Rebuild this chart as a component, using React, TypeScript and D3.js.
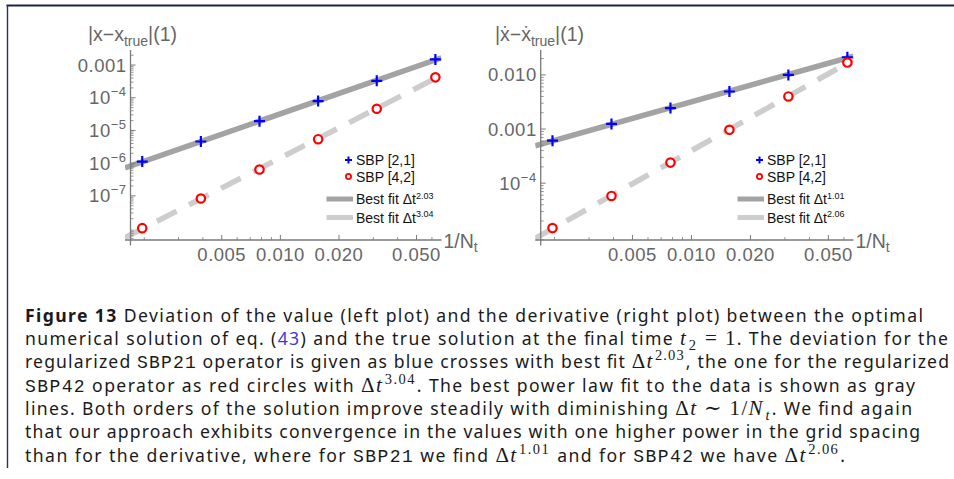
import React from 'react';
import * as d3 from 'd3';

// ---------- data ----------
const stepSizes = [1 / 512, 1 / 256, 1 / 128, 1 / 64, 1 / 32, 1 / 16];
const valueSBP21 = [1.12e-6, 4.6e-6, 1.92e-5, 7.9e-5, 3.3e-4, 1.49e-3];
const valueSBP42 = [1.03e-8, 8.3e-8, 6.4e-7, 5.4e-6, 4.6e-5, 4.2e-4];
const derivSBP21 = [6.1e-4, 1.24e-3, 2.44e-3, 4.94e-3, 1.0e-2, 2.12e-2];
const derivSBP42 = [1.48e-5, 5.8e-5, 2.4e-4, 9.7e-4, 4.0e-3, 1.69e-2];
const seriesNames = ['SBP [2,1]', 'SBP [4,2]'];
const valueFitExponents = ['2.03', '3.04'];
const derivFitExponents = ['1.01', '2.06'];
const xTickValues = [0.005, 0.01, 0.02, 0.05];
const xTickLabels = ['0.005', '0.010', '0.020', '0.050'];
const xMinorTickValues = [0.002, 0.003, 0.004, 0.006, 0.007, 0.008, 0.009, 0.03, 0.04, 0.06];
const valueYTicks = [1e-3, 1e-4, 1e-5, 1e-6, 1e-7];
const valueYTickLabels = [['0.001', ''], ['10', '−4'], ['10', '−5'], ['10', '−6'], ['10', '−7']];
const derivYTicks = [1e-2, 1e-3, 1e-4];
const derivYTickLabels = [['0.010', ''], ['0.001', ''], ['10', '−4']];
const xDomain = [0.0017, 0.066];
const valueYDomain = [Math.pow(10, -8.35), Math.pow(10, -2.54)];
const derivYDomain = [Math.pow(10, -5.05), Math.pow(10, -1.54)];

const BLUE = '#0000ff';
const RED = '#ff0000';
const FIT_DARK = '#a3a3a3';
const FIT_LIGHT = '#cdcdcd';
const AXIS = '#7a7a7a';
const LABEL = '#666666';
const PLOT_FONT = '"Liberation Sans", Arial, sans-serif';

function regress(xs: number[], ys: number[]) {
  const lx = xs.map(Math.log10);
  const ly = ys.map(Math.log10);
  const mx = d3.mean(lx) as number;
  const my = d3.mean(ly) as number;
  let num = 0, den = 0;
  lx.forEach((v, i) => { num += (v - mx) * (ly[i] - my); den += (v - mx) * (v - mx); });
  const b = num / den;
  const a = my - b * mx;
  return (xv: number) => Math.pow(10, a + b * Math.log10(xv));
}

type PanelProps = {
  id: string;
  xRange: [number, number];
  yDomain: number[];
  s21: number[];
  s42: number[];
  yTicks: number[];
  yTickLabels: string[][];
  exps: string[];
  dotted: boolean;
  ylabelX: number;
  legendX: number;
};

function Panel(p: PanelProps) {
  const x = d3.scaleLog().domain(xDomain).range(p.xRange);
  const y = d3.scaleLog().domain(p.yDomain).range([240, 50]);
  const left = p.xRange[0] - 5.5;
  const right = p.xRange[1] + 1.5;
  const top = 50;
  const bottom = 245.5;
  const axisY = y(p.yDomain[0]);
  const axisX = x(xDomain[0]);

  const f21 = regress(stepSizes, p.s21);
  const f42 = regress(stepSizes, p.s42);
  const xs = [x.invert(left), x.invert(right)];
  const fitPath = (f: (v: number) => number) =>
    d3.line<number>().x((d) => x(d)).y((d) => y(f(d)))(xs) as string;

  const minorY: number[] = [];
  const d0 = Math.floor(Math.log10(p.yDomain[0]));
  const d1 = Math.ceil(Math.log10(p.yDomain[1]));
  for (let d = d0; d <= d1; d++) {
    for (let m = 2; m <= 9; m++) {
      const v = m * Math.pow(10, d);
      if (v > p.yDomain[0] && v < p.yDomain[1]) minorY.push(v);
    }
  }

  const xVar = p.dotted ? 'ẋ' : 'x';
  const lx = p.legendX;

  return (
    <g>
      <defs>
        <clipPath id={p.id}>
          <rect x={left} y={top} width={right - left} height={bottom - top} />
        </clipPath>
      </defs>
      <g clipPath={`url(#${p.id})`}>
        <path d={fitPath(f21)} stroke={FIT_DARK} strokeWidth={5.5} fill="none" />
        <path d={fitPath(f42)} stroke={FIT_LIGHT} strokeWidth={5.5} fill="none" strokeDasharray="22,14" />
      </g>
      <line x1={left} x2={right} y1={axisY} y2={axisY} stroke={AXIS} strokeWidth={1.3} />
      <line x1={axisX} x2={axisX} y1={top} y2={bottom} stroke={AXIS} strokeWidth={1.3} />
      {xTickValues.map((v) => (
        <line key={'xt' + v} x1={x(v)} x2={x(v)} y1={axisY} y2={axisY - 5} stroke={AXIS} strokeWidth={1} />
      ))}
      {xMinorTickValues.map((v) => (
        <line key={'xm' + v} x1={x(v)} x2={x(v)} y1={axisY} y2={axisY - 3} stroke={AXIS} strokeWidth={0.8} />
      ))}
      {xTickValues.map((v, i) => (
        <text key={'xl' + v} x={x(v)} y={axisY + 21} textAnchor="middle" fontFamily={PLOT_FONT} fontSize={18.5}
          fill={LABEL} letterSpacing={0.5}>{xTickLabels[i]}</text>
      ))}
      {p.yTicks.map((v) => (
        <line key={'yt' + v} x1={axisX} x2={axisX + 5} y1={y(v)} y2={y(v)} stroke={AXIS} strokeWidth={1} />
      ))}
      {minorY.map((v) => (
        <line key={'ym' + v} x1={axisX} x2={axisX + 3} y1={y(v)} y2={y(v)} stroke={AXIS} strokeWidth={0.8} />
      ))}
      {p.yTicks.map((v, i) => (
        <text key={'yl' + v} x={axisX - 4} y={y(v) + 6.5} textAnchor="end" fontFamily={PLOT_FONT} fontSize={18.5}
          fill={LABEL} letterSpacing={0.5}>
          {p.yTickLabels[i][0]}
          {p.yTickLabels[i][1] ? (
            <tspan fontSize={13} dy={-8}>{p.yTickLabels[i][1]}</tspan>
          ) : null}
        </text>
      ))}
      <text x={p.ylabelX} y={41} fontFamily={PLOT_FONT} fontSize={19.5} fill={LABEL}>
        {`|${xVar}−${xVar}`}
        <tspan fontSize={14} dy={4.5}>true</tspan>
        <tspan dy={-4.5}>|(1)</tspan>
      </text>
      <text x={right + 2} y={248} fontFamily={PLOT_FONT} fontSize={19.5} fill={LABEL}>
        1/N<tspan fontSize={14} dy={4}>t</tspan>
      </text>
      {stepSizes.map((v, i) => (
        <path key={'p' + i}
          d={`M${x(v) - 5.5},${y(p.s21[i])}h11M${x(v)},${y(p.s21[i]) - 5.5}v11`}
          stroke={BLUE} strokeWidth={2.2} fill="none" />
      ))}
      {stepSizes.map((v, i) => (
        <circle key={'c' + i} cx={x(v)} cy={y(p.s42[i])} r={4.2} stroke={RED} strokeWidth={2.2} fill="white" />
      ))}
      <path d={`M${lx - 11},160h7M${lx - 7.5},156.5v7`} stroke={BLUE} strokeWidth={2} fill="none" />
      <text x={lx} y={165} fontFamily={PLOT_FONT} fontSize={14} fill="#111">{seriesNames[0]}</text>
      <circle cx={lx - 7.5} cy={176.5} r={2.6} stroke={RED} strokeWidth={1.8} fill="white" />
      <text x={lx} y={181.5} fontFamily={PLOT_FONT} fontSize={14} fill="#111">{seriesNames[1]}</text>
      <line x1={lx - 29.5} x2={lx - 3} y1={199} y2={199} stroke={FIT_DARK} strokeWidth={5} />
      <text x={lx} y={204} fontFamily={PLOT_FONT} fontSize={14} fill="#111">
        Best fit Δt<tspan fontSize={9} dy={-5.5}>{p.exps[0]}</tspan>
      </text>
      <line x1={lx - 29.5} x2={lx - 3} y1={217.5} y2={217.5} stroke={FIT_LIGHT} strokeWidth={5} />
      <text x={lx} y={222.5} fontFamily={PLOT_FONT} fontSize={14} fill="#111">
        Best fit Δt<tspan fontSize={9} dy={-5.5}>{p.exps[1]}</tspan>
      </text>
    </g>
  );
}

// ---------- caption ----------
type Seg = { t: string; k?: string };
const captionLines: Seg[][] = [
  [{ t: 'Figure 13', k: 'b' }, { t: ' Deviation of the value (left plot) and the derivative (right plot) between the optimal' }],
  [{ t: 'numerical solution of eq. (' }, { t: '43', k: 'link' }, { t: ') and the true solution at the final time ' },
    { t: 't', k: 'mi' }, { t: '2', k: 'sub' }, { t: ' = 1', k: 'm' }, { t: '. The deviation for the' }],
  [{ t: 'regularized ' }, { t: 'SBP21', k: 'tt' }, { t: ' operator is given as blue crosses with best fit ' },
    { t: 'Δ', k: 'm' }, { t: 't', k: 'mi' }, { t: '2.03', k: 'sup' }, { t: ', the one for the regularized' }],
  [{ t: 'SBP42', k: 'tt' }, { t: ' operator as red circles with ' }, { t: 'Δ', k: 'm' }, { t: 't', k: 'mi' },
    { t: '3.04', k: 'sup' }, { t: '. The best power law fit to the data is shown as gray' }],
  [{ t: 'lines. Both orders of the solution improve steadily with diminishing ' }, { t: 'Δ', k: 'm' }, { t: 't', k: 'mi' },
    { t: ' ∼ 1/', k: 'm' }, { t: 'N', k: 'mi' }, { t: 't', k: 'subi' }, { t: '. We find again' }],
  [{ t: 'that our approach exhibits convergence in the values with one higher power in the grid spacing' }],
  [{ t: 'than for the derivative, where for ' }, { t: 'SBP21', k: 'tt' }, { t: ' we find ' }, { t: 'Δ', k: 'm' },
    { t: 't', k: 'mi' }, { t: '1.01', k: 'sup' }, { t: ' and for ' }, { t: 'SBP42', k: 'tt' }, { t: ' we have ' },
    { t: 'Δ', k: 'm' }, { t: 't', k: 'mi' }, { t: '2.06', k: 'sup' }, { t: '.' }],
];
const captionWidths = [898, 923, 924, 890, 887, 895, 820];

const SANS = '"Noto Sans", "Liberation Sans", sans-serif';
const SERIF = '"Liberation Serif", "DejaVu Serif", serif';
const MONO = '"Liberation Mono", monospace';

function segs(line: Seg[]) {
  const out: React.ReactNode[] = [];
  let shift = 0;
  line.forEach((s, i) => {
    let target = 0;
    const props: any = { key: i };
    if (s.k === 'sup') target = -8;
    if (s.k === 'sub' || s.k === 'subi') target = 5;
    const dy = target - shift;
    shift = target;
    if (dy !== 0) props.dy = dy;
    const prev = i > 0 ? line[i - 1].k : undefined;
    if (s.k === 'sup' || s.k === 'sub' || s.k === 'subi') props.dx = 1.5;
    else if (prev === 'sup' || prev === 'sub' || prev === 'subi') props.dx = 1;
    switch (s.k) {
      case 'b': props.fontWeight = 'bold'; break;
      case 'link': props.fill = '#3a3ad8'; break;
      case 'mi': props.fontFamily = SERIF; props.fontStyle = 'italic'; props.fontSize = 21; break;
      case 'm': props.fontFamily = SERIF; props.fontSize = 21; break;
      case 'sup': props.fontFamily = SERIF; props.fontSize = 14.5; break;
      case 'sub': props.fontFamily = SERIF; props.fontSize = 14.5; break;
      case 'subi': props.fontFamily = SERIF; props.fontSize = 14.5; props.fontStyle = 'italic'; break;
      case 'tt': props.fontFamily = MONO; props.fontSize = 18; break;
    }
    out.push(<tspan {...props}>{s.t}</tspan>);
  });
  return out;
}

export default function App() {
  return (
    <svg width={954} height={479} style={{ position: 'absolute', left: 0, top: 0, background: 'white' }}>
      <rect x={0} y={0} width={954} height={479} fill="white" />
      <line x1={6.5} x2={954} y1={5.5} y2={5.5} stroke="#1b2246" strokeWidth={2} />
      <line x1={7.5} x2={7.5} y1={5} y2={468} stroke="#2a3158" strokeWidth={1.4} />
      <Panel id="clipL" xRange={[130.5, 440]} yDomain={valueYDomain} s21={valueSBP21} s42={valueSBP42}
        yTicks={valueYTicks} yTickLabels={valueYTickLabels} exps={valueFitExponents} dotted={false}
        ylabelX={88} legendX={356} />
      <Panel id="clipR" xRange={[540.7, 852]} yDomain={derivYDomain} s21={derivSBP21} s42={derivSBP42}
        yTicks={derivYTicks} yTickLabels={derivYTickLabels} exps={derivFitExponents} dotted={true}
        ylabelX={495} legendX={767} />
      {captionLines.map((line, i) => (
        <text key={i} x={25} y={321.7 + i * 23.33} fontFamily={SANS} fontSize={17.6} fill="#1a1a1a"
          textLength={captionWidths[i]} lengthAdjust="spacing">
          {segs(line)}
        </text>
      ))}
    </svg>
  );
}
